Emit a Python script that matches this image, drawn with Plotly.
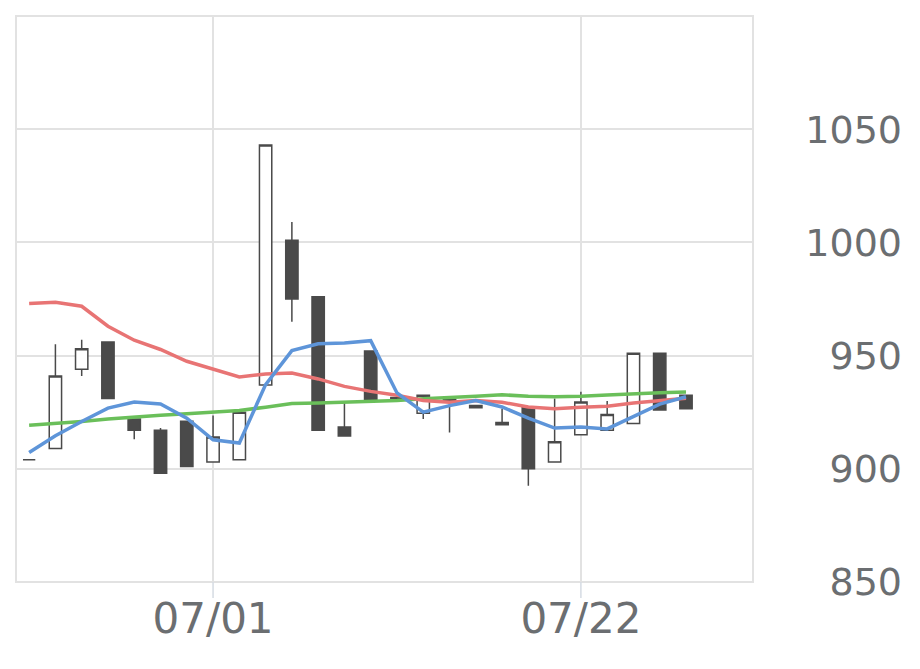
import plotly.graph_objects as go

dates = ["2024-06-20", "2024-06-21", "2024-06-24", "2024-06-25", "2024-06-26", "2024-06-27",
         "2024-06-28", "2024-07-01", "2024-07-02", "2024-07-03", "2024-07-04", "2024-07-05",
         "2024-07-08", "2024-07-09", "2024-07-10", "2024-07-11", "2024-07-12", "2024-07-16",
         "2024-07-17", "2024-07-18", "2024-07-19", "2024-07-22", "2024-07-23", "2024-07-24",
         "2024-07-25", "2024-07-26"]

open_ = [904, 909, 944, 956, 922, 917, 921, 903, 904, 937, 1001, 976,
         918.5, 952, 931.5, 924.5, 930.5, 928, 920.5, 927, 903, 915, 917, 920,
         951, 932.5]
high = [904, 955, 957, 956, 922, 918, 921, 923.5, 925, 1043, 1009, 976,
        930, 952, 931.5, 932.5, 930.5, 928, 926.5, 927, 931, 934, 930, 951,
        951, 932.5]
low = [904, 909, 941, 931, 913, 898, 901, 903, 904, 937, 965, 917,
       914.5, 930.5, 930.5, 922, 916, 927, 919.5, 892.5, 903, 915, 917, 920,
       926, 926.5]
close = [904, 941, 953, 931, 917, 898, 901, 914, 925, 1043, 975, 917,
         914.5, 930.5, 930.5, 932.5, 929.5, 927, 919.5, 900, 912, 929.5, 924, 951,
         926, 926.5]

ma_short = [907.2, 914.6, 920.9, 926.8, 929.5, 928.6, 922.4, 912.8, 911.4, 937.2, 952.2, 955.2,
            955.6, 956.6, 933.5, 925.0, 927.9, 930.2, 927.3, 922.4, 918.0, 918.5, 917.6, 923.2,
            928.6, 931.8]
ma_mid = [973.0, 973.6, 971.8, 963.0, 956.8, 952.7, 947.5, 944.1, 940.6, 941.9, 942.3, 939.7,
          936.4, 934.2, 932.5, 930.2, 929.4, 930.2, 929.4, 927.3, 926.5, 927.2, 927.6, 929.1,
          930.1, 931.2]
ma_long = [919.2, 919.9, 920.9, 922.0, 922.9, 923.6, 924.3, 925.1, 925.8, 927.2, 928.8, 929.1,
           929.4, 929.8, 930.2, 930.9, 931.3, 932.0, 932.7, 932.0, 931.8, 932.0, 932.6, 933.2,
           933.6, 933.9]

x_tickvals = ["2024-07-01", "2024-07-22"]
x_ticktext = ["07/01", "07/22"]
y_tickvals = [850, 900, 950, 1000, 1050]

dark = "#4a4a4a"
grid = "#e2e2e2"
fig = go.Figure()
fig.add_trace(go.Candlestick(
    x=dates, open=open_, high=high, low=low, close=close,
    increasing=dict(line=dict(color=dark, width=1.5), fillcolor="#ffffff"),
    decreasing=dict(line=dict(color=dark, width=1.5), fillcolor=dark),
    whiskerwidth=0, showlegend=False,
))
fig.add_trace(go.Scatter(x=dates, y=ma_long, mode="lines",
                         line=dict(color="#6abf5a", width=3.5), showlegend=False))
fig.add_trace(go.Scatter(x=dates, y=ma_mid, mode="lines",
                         line=dict(color="#e87474", width=3.5), showlegend=False))
fig.add_trace(go.Scatter(x=dates, y=ma_short, mode="lines",
                         line=dict(color="#5e95d9", width=3.5), showlegend=False))

# page body has an 8px offset; margins compensate for it
paper_w = 920 - 8
shapes = [dict(type="rect", xref="x domain", yref="y domain", x0=0, x1=1, y0=0, y1=1,
               line=dict(color=grid, width=2), layer="below")]
for tv in x_tickvals:
    shapes.append(dict(type="line", xref="x", yref="y domain", x0=tv, x1=tv,
                       y0=0, y1=-16 / 566, line=dict(color="#d5dbe3", width=1.5)))

fig.update_layout(
    width=920, height=669,
    margin=dict(l=8, r=0, t=8, b=95),
    paper_bgcolor="white", plot_bgcolor="white",
    boxgap=0.33,
    font=dict(family="DejaVu Sans", color="#6b6e71"),
    xaxis=dict(
        type="category", domain=[0, 737 / paper_w], range=[-0.5, 27.55],
        tickvals=x_tickvals, ticktext=x_ticktext,
        tickfont=dict(size=42), showgrid=True, gridcolor=grid, gridwidth=1.5,
        ticks="", ticklabelstandoff=8,
        rangeslider=dict(visible=False), zeroline=False, showline=False,
    ),
    yaxis=dict(
        range=[850, 1100], tickvals=y_tickvals, side="left", anchor="free",
        position=886 / paper_w, tickfont=dict(size=38),
        showgrid=True, gridcolor=grid, gridwidth=1.5, zeroline=False, showline=False,
        ticks="", ticklabelstandoff=0,
    ),
    shapes=shapes,
)
fig.write_html("out.html")
